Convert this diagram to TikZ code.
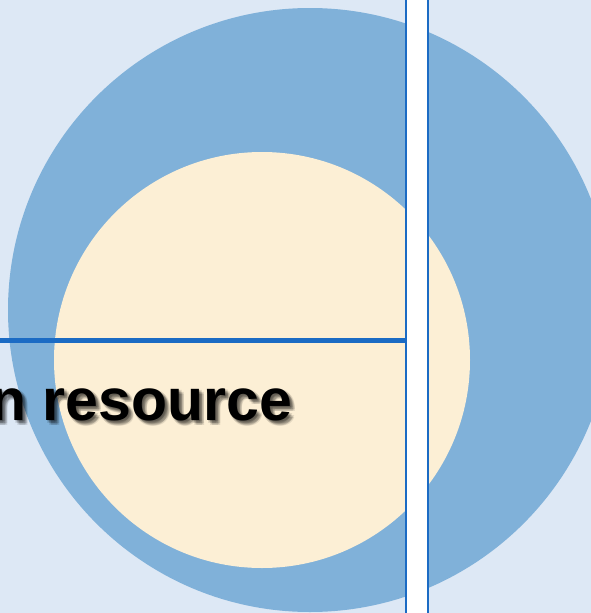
\documentclass[tikz,border=0pt]{standalone}
\usepackage{fontspec}
\setmainfont{Liberation Sans}
\usepackage{xcolor}
\usepackage{tikz}
\usetikzlibrary{calc}
\definecolor{PageBlue}{HTML}{DDE8F5}
\definecolor{DiscBlue}{HTML}{80B1D9}
\definecolor{Cream}{HTML}{FCEFD5}
\definecolor{RuleBlue}{HTML}{1B6BC4}
\tikzset{%Global config
	>=latex,
	color = black ,
	%Styles
	Outer/.style={
		fill=DiscBlue,
		draw=none,
	},
	Inner/.style={
		fill=Cream,
		draw=none,
	},
	Strip/.style={
		fill=white,
		draw=RuleBlue,
		line width=2.2pt,
	},
	Rule/.style={
		draw=RuleBlue,
		line width=4.5pt,
	},
	Label/.style={
		anchor=base west,
		inner sep=0pt,
		font=\fontsize{59}{59}\selectfont\bfseries,
	},
	Shadow/.style={
		Label,
		text=black,
		text opacity=0.1,
	}
}

\begin{document}
\begin{tikzpicture}[x=1pt,y=-1pt]
		\useasboundingbox (0,0) rectangle (591,613);
		\clip (0,0) rectangle (591,613);
		\fill[PageBlue] (0,0) rectangle (591,613);
		
		% discs
		\fill[Outer] (310,310) circle (302);
		\fill[Inner] (262,360) circle (208);
		
		% rules
		\coordinate (L) at (0,340.5);
		\coordinate (R) at (405,340.5);
		\draw[Rule] (L) -- (R);
		\draw[Strip] (405.8,-2) rectangle (428.2,615);
		
		% text with soft shadow
		\foreach \dx/\dy in {1/1,2/2,3/3,4/4,5/5,3/1,1/3,5/3,3/5}{
			\node[Shadow] (shadow) at (-10+\dx,420+\dy) {n resource};
		}
		\node[Label] (title) at (-10,420) {n resource};
	\end{tikzpicture}
\end{document}
